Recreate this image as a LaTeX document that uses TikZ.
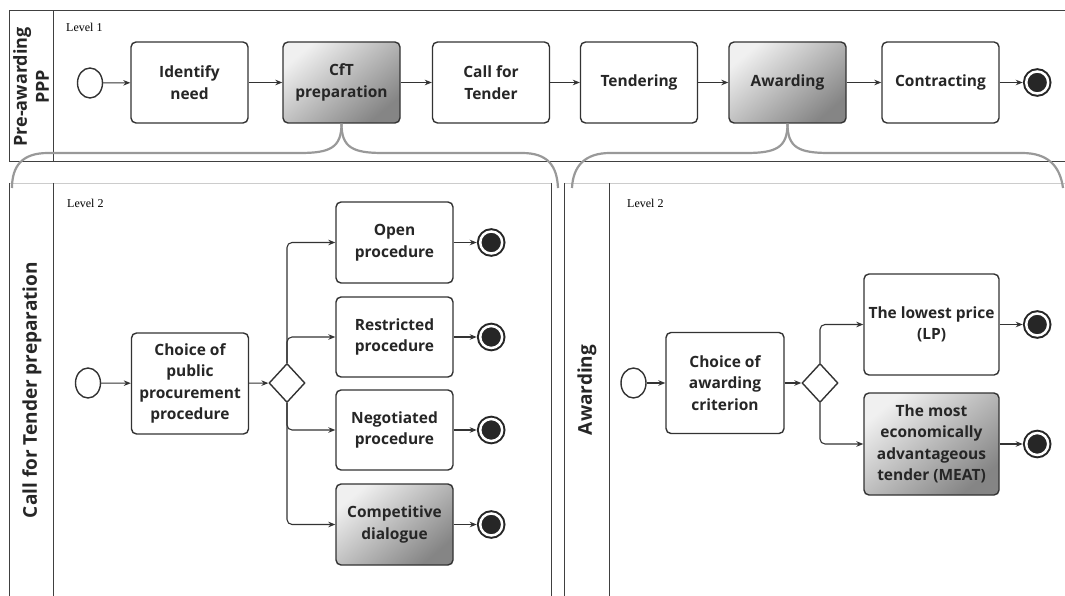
\documentclass[tikz,border=0pt]{standalone}
\usepackage{fontspec}
\setmainfont{Open Sans}
\newfontfamily\lvlfont{Liberation Serif}
\usetikzlibrary{shapes.geometric,arrows.meta,positioning}

\tikzset{
  task/.style={draw=black!80, line width=1.4pt, rounded corners=5pt, fill=white,
    align=center, inner sep=2pt, text=black!85,
    font=\bfseries\fontsize{15.5}{21.5}\selectfont,
    minimum width=117pt, minimum height=81pt},
  greytask/.style={task, top color=black!6, bottom color=black!48, shading angle=40},
  startev/.style={ellipse, draw=black!80, line width=1.4pt,
    minimum width=25pt, minimum height=30pt, inner sep=0pt},
  endev/.style={circle, draw=black!85, fill=black!85, line width=2pt,
    double=white, double distance=2.5pt, minimum size=22pt, inner sep=0pt, outer sep=3.5pt},
  gw/.style={diamond, draw=black!80, line width=1.4pt,
    minimum width=36pt, minimum height=39pt, inner sep=0pt},
  flow/.style={draw=black!80, line width=1.1pt, -{Stealth[length=7pt,width=5.5pt]}},
  brace/.style={draw=black!40, line width=2.2pt},
  pool/.style={draw=black!75, line width=1pt},
  lane/.style={font=\bfseries\fontsize{19}{22}\selectfont, text=black!85,
    rotate=90, align=center},
  level/.style={font=\lvlfont\fontsize{12}{14}\selectfont, anchor=west, inner sep=0pt},
}

\newcommand{\myEnd}[2]{
\node[endev, right=23pt of #1] (#2) {};
\draw[flow] (#1) -- (#2);
}

\begin{document}
\begin{tikzpicture}[x=1pt,y=-1pt]
\useasboundingbox[fill=white] (0,0) rectangle (1065,596);

% pools and lanes
\draw[pool] (9,11) rectangle (1075,162);
\draw[pool] (53,11) -- (53,162);
\draw[black!20, line width=0.8pt] (9,183) -- (551,183) (564,183) -- (1075,183);
\foreach \x in {9,53,551,564,609}
  \draw[pool] (\x,183) -- (\x,600);

% level 1
\node[lane, font=\bfseries\fontsize{18}{22}\selectfont] (l0) at (31,87) {Pre-awarding\\PPP};
\node[level] (v0) at (66,27) {Level 1};
\node[startev] (s0) at (90,83) {};
\node[task] (need) at (189.5,82.5) {Identify\\need};
\node[greytask] (cft) at (341.5,82.5) {CfT\\preparation};
\node[task] (cfor) at (491,82.5) {Call for\\Tender};
\node[task] (tend) at (639,82.5) {Tendering};
\node[greytask] (award) at (787.5,82.5) {Awarding};
\node[task] (contr) at (940.5,82.5) {Contracting};
\foreach \a/\b in {s0/need, need/cft, cft/cfor, cfor/tend, tend/award, award/contr}
  \draw[flow] (\a) -- (\b);
\myEnd{contr}{e0}

% braces down to level 2
\coordinate (b1l) at (12,188);
\coordinate (b1r) at (558,188);
\coordinate (b2l) at (572,188);
\coordinate (b2r) at (1063,188);
\draw[brace] (cft.south) .. controls +(0,24) and (330,153) .. (300,153)
  -- (48,153) .. controls (22,153) and (12,166) .. (b1l);
\draw[brace] (cft.south) .. controls +(0,24) and (353,153) .. (383,153)
  -- (522,153) .. controls (548,153) and (557,166) .. (b1r);
\draw[brace] (award.south) .. controls +(0,24) and (776,153) .. (746,153)
  -- (610,153) .. controls (585,153) and (573,166) .. (b2l);
\draw[brace] (award.south) .. controls +(0,24) and (799,153) .. (829,153)
  -- (1022,153) .. controls (1048,153) and (1060,166) .. (b2r);

% level 2: call for tender preparation
\node[lane] (l1) at (32,390) {Call for Tender preparation};
\node[level] (v1) at (67,203) {Level 2};
\node[startev] (s1) at (88,383) {};
\node[task, minimum height=101pt] (pick1) at (190,383.5) {Choice of\\public\\procurement\\procedure};
\node[gw] (gw1) at (287,383) {};
\node[task] (open) at (394.5,242.5) {Open\\procedure};
\node[task, minimum height=80pt] (restr) at (394.5,337) {Restricted\\procedure};
\node[task, minimum height=80pt] (nego) at (394.5,430) {Negotiated\\procedure};
\node[greytask] (dial) at (394.5,524.5) {Competitive\\dialogue};
\draw[flow] (s1) -- (pick1);
\draw[flow] (pick1) -- (gw1);
\foreach \t in {open,restr}
  \draw[flow, rounded corners=5pt] (gw1.north) |- (\t);
\foreach \t in {nego,dial}
  \draw[flow, rounded corners=5pt] (gw1.south) |- (\t);
\foreach \t/\e in {open/e1, restr/e2, nego/e3, dial/e4}
  {\myEnd{\t}{\e}}

% level 2: awarding
\node[lane] (l2) at (587,390) {Awarding};
\node[level] (v2) at (627,203) {Level 2};
\node[startev] (s2) at (633.5,383) {};
\node[task, minimum width=118pt, minimum height=101pt] (pick2) at (725,383) {Choice of\\awarding\\criterion};
\node[gw] (gw2) at (820,383) {};
\node[task, minimum width=135pt, minimum height=101pt] (lp) at (931.5,324.5) {The lowest price\\(LP)};
\node[greytask, minimum width=135pt, minimum height=102pt] (meat) at (931.5,444) {The most\\economically\\advantageous\\tender (MEAT)};
\draw[flow] (s2) -- (pick2);
\draw[flow] (pick2) -- (gw2);
\draw[flow, rounded corners=5pt] (gw2.north) |- (lp);
\draw[flow, rounded corners=5pt] (gw2.south) |- (meat);
\myEnd{lp}{e5}
\myEnd{meat}{e6}
\end{tikzpicture}
\end{document}
